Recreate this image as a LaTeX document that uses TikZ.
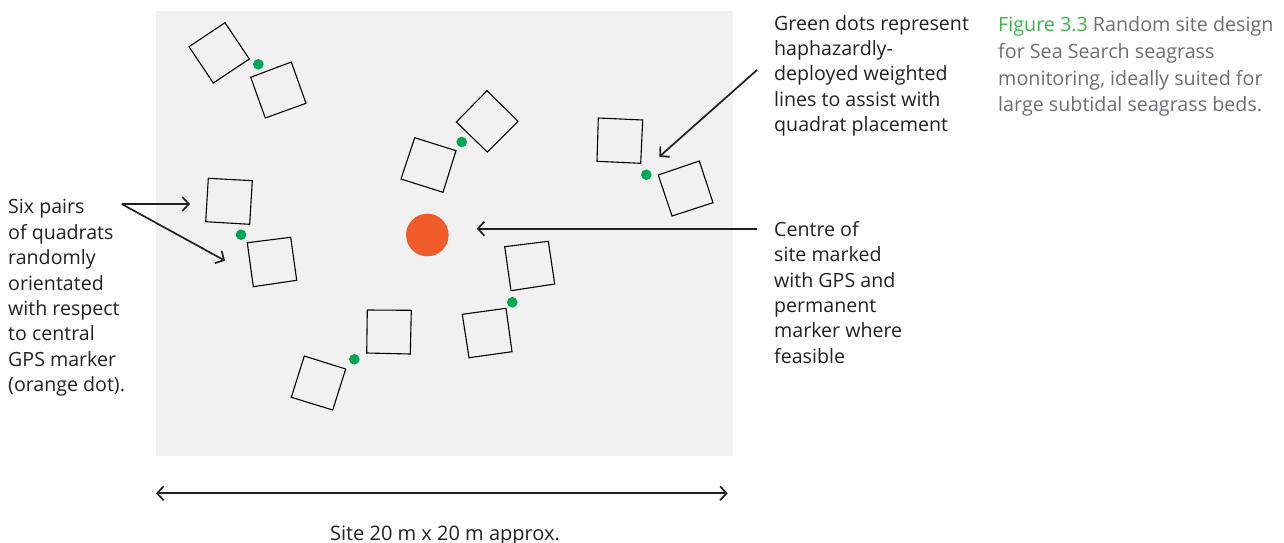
\documentclass[tikz,border=0pt]{standalone}
\usepackage{fontspec}
\setmainfont{Open Sans}
\usetikzlibrary{arrows.meta}
\definecolor{bg}{HTML}{F1F1F1}
\definecolor{txt}{HTML}{231F20}
\definecolor{capgray}{HTML}{6D6E71}
\definecolor{figgreen}{HTML}{39B54A}
\definecolor{dotgreen}{HTML}{00A651}
\definecolor{gpsorange}{HTML}{F15A29}
\tikzset{
  quad/.style={draw=black, line width=1.1pt, line join=miter},
  gdot/.style={circle, fill=dotgreen, inner sep=0pt, minimum size=10.6pt},
  label text/.style={font=\fontsize{19.6}{25.4}\selectfont, text=txt, align=left, inner sep=0pt, anchor=base west},
  barb/.tip={Straight Barb[length=6.5pt,width=14pt,line width=1.7pt]},
  pointer/.style={draw=txt, line width=1.7pt, -barb},
}
\begin{document}
\begin{tikzpicture}[x=1pt,y=-1pt]
\useasboundingbox (0,0) rectangle (1284,543);
% site background
\fill[bg] (156,11) rectangle (733,456);
% quadrats
\draw[quad] (189,46.7) -- (225,22.7) -- (249.3,59) -- (213.3,83) -- cycle;
\draw[quad] (250.7,77.3) -- (291.3,62) -- (306,103.3) -- (265.3,118) -- cycle;
\draw[quad] (456.3,122) -- (487,90.7) -- (518,121.3) -- (487.3,152) -- cycle;
\draw[quad] (414.7,137.7) -- (456,150.7) -- (443,192.3) -- (401,179) -- cycle;
\draw[quad] (598.3,118) -- (642.7,120) -- (640.7,163.3) -- (597,161.3) -- cycle;
\draw[quad] (658.3,175) -- (699.3,161) -- (713,202.7) -- (672,216) -- cycle;
\draw[quad] (208.3,178.3) -- (252.3,180.7) -- (249.7,224.3) -- (205.7,221.7) -- cycle;
\draw[quad] (247.3,242.7) -- (290.7,237.3) -- (296.7,280.3) -- (253.3,286.7) -- cycle;
\draw[quad] (367.3,310) -- (411.3,310.3) -- (410.3,354) -- (366.7,353) -- cycle;
\draw[quad] (304.3,356) -- (345.7,369) -- (332.7,410) -- (291.3,397.3) -- cycle;
\draw[quad] (504.7,246.7) -- (548.3,241.3) -- (554.7,284) -- (511,290.7) -- cycle;
\draw[quad] (462.3,314.3) -- (506,308.3) -- (512,351.7) -- (469,357.7) -- cycle;
% green dots
\node[gdot] (g1) at (258.3,64.3) {};
\node[gdot] (g2) at (461.7,142) {};
\node[gdot] (g3) at (646.3,174.7) {};
\node[gdot] (g4) at (241,234.7) {};
\node[gdot] (g5) at (354.3,359.3) {};
\node[gdot] (g6) at (512.3,302.3) {};
% central GPS marker
\node[circle, fill=gpsorange, inner sep=0pt, minimum size=42.6pt] (gps) at (427.3,235) {};
% texts (anchored at the baseline of their last line)
\node[label text] (greentxt) at (774,131.7) {Green dots represent\\haphazardly-\\deployed weighted\\lines to assist with\\quadrat placement};
\node[label text] (centretxt) at (774,363.3) {Centre of\\site marked\\with GPS and\\permanent\\marker where\\feasible};
\node[label text] (sixtxt) at (8,391.7) {Six pairs\\of quadrats\\randomly\\orientated\\with respect\\to central\\GPS marker\\(orange dot).};
\node[font=\fontsize{19.7}{26.7}\selectfont, text=capgray, align=left, inner sep=0pt, anchor=base west] (caption) at (998,111.7) {\textcolor{figgreen}{Figure 3.3} Random site design\\for Sea Search seagrass\\monitoring, ideally suited for\\large subtidal seagrass beds.};
\node[font=\fontsize{20}{25.4}\selectfont, text=txt, inner sep=0pt, anchor=base] (sitetxt) at (445,540) {Site 20 m x 20 m approx.};
% pointer coordinates
\coordinate (gstart) at (757,70);
\coordinate (gtip) at (659.3,156.7);
\coordinate (cstart) at (757,228.7);
\coordinate (ctip) at (476.7,228.7);
\coordinate (sstart) at (121.7,204);
\coordinate (stip1) at (190,204);
\coordinate (stip2) at (225,260.7);
\coordinate (dimL) at (156,493.3);
\coordinate (dimR) at (727.7,493.3);
% pointers
\draw[pointer] (gstart) -- (gtip);
\draw[pointer] (cstart) -- (ctip);
\draw[pointer] (sstart) -- (stip1);
\draw[pointer] (sstart) -- (stip2);
\draw[pointer, barb-barb] (dimL) -- (dimR);
\end{tikzpicture}
\end{document}
